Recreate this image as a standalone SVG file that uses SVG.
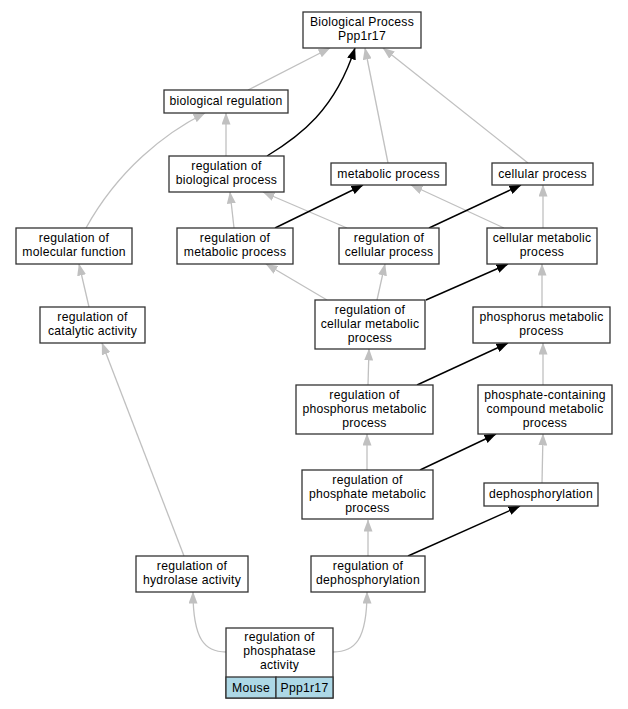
<svg xmlns="http://www.w3.org/2000/svg" width="628" height="709" viewBox="0 0 628 709">
<style>
.n rect{fill:#fff;stroke:#333;stroke-width:1.3}
text{font-family:"Liberation Sans",Arial,sans-serif;font-size:12.2px;letter-spacing:0.25px;fill:#000;text-anchor:middle}
.g{fill:none;stroke:#c0c0c0;stroke-width:1.3}
.k{fill:none;stroke:#000;stroke-width:1.4}
.g{marker-end:url(#ag)}
.k{marker-end:url(#ak)}
rect.c{fill:#add8e6;stroke:#333;stroke-width:1.3}
</style>
<defs>
<marker id="ag" markerUnits="userSpaceOnUse" viewBox="0 0 12 9" markerWidth="12" markerHeight="9" refX="11.5" refY="4.5" orient="auto"><path d="M0,0 L12,4.5 L0,9 z" fill="#c0c0c0"/></marker>
<marker id="ak" markerUnits="userSpaceOnUse" viewBox="0 0 12 9" markerWidth="12" markerHeight="9" refX="11.5" refY="4.5" orient="auto"><path d="M0,0 L12,4.5 L0,9 z" fill="#000"/></marker>
</defs>
<rect width="628" height="709" fill="#fff"/>
<g id="edges">
<path class="g" d="M248,90 L330,48"/>
<path class="k" d="M267,156 C300,136 335,110 355,48"/>
<path class="g" d="M388,163 L365,48"/>
<path class="g" d="M528,163 L383,48"/>
<path class="g" d="M226,156 L226,113"/>
<path class="g" d="M86,228 C118,170 165,133 205,113"/>
<path class="g" d="M234,228 L230,192"/>
<path class="g" d="M347,228 L263,192"/>
<path class="k" d="M275,228 L363,185"/>
<path class="g" d="M504,228 L411,185"/>
<path class="k" d="M429,228 L521,185"/>
<path class="g" d="M543,228 L543,185"/>
<path class="g" d="M327,300 L266,264"/>
<path class="g" d="M377,300 L385,264"/>
<path class="k" d="M426,300 L508,264"/>
<path class="g" d="M542,307 L542,264"/>
<path class="g" d="M89,307 L79,264"/>
<path class="g" d="M184,556 L102,343"/>
<path class="g" d="M368,385 L369,349"/>
<path class="k" d="M417,385 L508,343"/>
<path class="g" d="M543,385 L543,343"/>
<path class="g" d="M367,470 L367,434"/>
<path class="k" d="M420,470 L496,434"/>
<path class="g" d="M542,483 L543,434"/>
<path class="g" d="M368,556 L368,520"/>
<path class="k" d="M408,556 L520,506"/>
<path class="g" d="M226,652 C205,652 193,640 193,592"/>
<path class="g" d="M333,652 C355,652 367,640 367,592"/>
</g>
<g id="n_bp" class="n"><rect x="303" y="12" width="118" height="36"/><text x="362" y="26.3">Biological Process</text><text x="362" y="40">Ppp1r17</text></g>
<g id="n_breg" class="n"><rect x="164" y="90" width="124" height="23"/><text x="226" y="105">biological regulation</text></g>
<g id="n_rbp" class="n"><rect x="169" y="156" width="115" height="36"/><text x="226.5" y="170.2">regulation of</text><text x="226.5" y="183.9">biological process</text></g>
<g id="n_mp" class="n"><rect x="331" y="163" width="115" height="22"/><text x="388.5" y="177.5">metabolic process</text></g>
<g id="n_cp" class="n"><rect x="492" y="163" width="101" height="22"/><text x="542.5" y="177.5">cellular process</text></g>
<g id="n_rmf" class="n"><rect x="16" y="228" width="116" height="36"/><text x="74" y="242.2">regulation of</text><text x="74" y="255.9">molecular function</text></g>
<g id="n_rmp" class="n"><rect x="177" y="228" width="116" height="36"/><text x="235" y="242.2">regulation of</text><text x="235" y="255.9">metabolic process</text></g>
<g id="n_rcp" class="n"><rect x="339" y="228" width="100" height="36"/><text x="389" y="242.2">regulation of</text><text x="389" y="255.9">cellular process</text></g>
<g id="n_cmp" class="n"><rect x="487" y="228" width="110" height="36"/><text x="542" y="242.2">cellular metabolic</text><text x="542" y="255.9">process</text></g>
<g id="n_rca" class="n"><rect x="40" y="307" width="105" height="36"/><text x="92.5" y="321.2">regulation of</text><text x="92.5" y="334.9">catalytic activity</text></g>
<g id="n_rcmp" class="n"><rect x="315" y="300" width="110" height="49"/><text x="370" y="314.3">regulation of</text><text x="370" y="328">cellular metabolic</text><text x="370" y="341.7">process</text></g>
<g id="n_pmp" class="n"><rect x="473" y="307" width="137" height="36"/><text x="541.5" y="321.2">phosphorus metabolic</text><text x="541.5" y="334.9">process</text></g>
<g id="n_rpmp" class="n"><rect x="296" y="385" width="137" height="49"/><text x="364.5" y="399.3">regulation of</text><text x="364.5" y="413">phosphorus metabolic</text><text x="364.5" y="426.7">process</text></g>
<g id="n_pccmp" class="n"><rect x="478" y="385" width="134" height="49"/><text x="545" y="399.3">phosphate-containing</text><text x="545" y="413">compound metabolic</text><text x="545" y="426.7">process</text></g>
<g id="n_rphmp" class="n"><rect x="302" y="470" width="131" height="49"/><text x="367.5" y="484.3">regulation of</text><text x="367.5" y="498">phosphate metabolic</text><text x="367.5" y="511.7">process</text></g>
<g id="n_dep" class="n"><rect x="484" y="483" width="114" height="23"/><text x="541" y="498">dephosphorylation</text></g>
<g id="n_rha" class="n"><rect x="136" y="556" width="112" height="36"/><text x="192" y="570.2">regulation of</text><text x="192" y="583.9">hydrolase activity</text></g>
<g id="n_rdep" class="n"><rect x="311" y="556" width="114" height="36"/><text x="368" y="570.2">regulation of</text><text x="368" y="583.9">dephosphorylation</text></g>
<g id="n_rpa" class="n"><rect x="226" y="628" width="107" height="70"/><text x="279.5" y="641.3">regulation of</text><text x="279.5" y="655">phosphatase</text><text x="279.5" y="668.7">activity</text><rect class="c" x="226" y="677" width="50" height="21"/><rect class="c" x="276" y="677" width="57" height="21"/><text x="251" y="692">Mouse</text><text x="304.5" y="692">Ppp1r17</text></g>
</svg>
